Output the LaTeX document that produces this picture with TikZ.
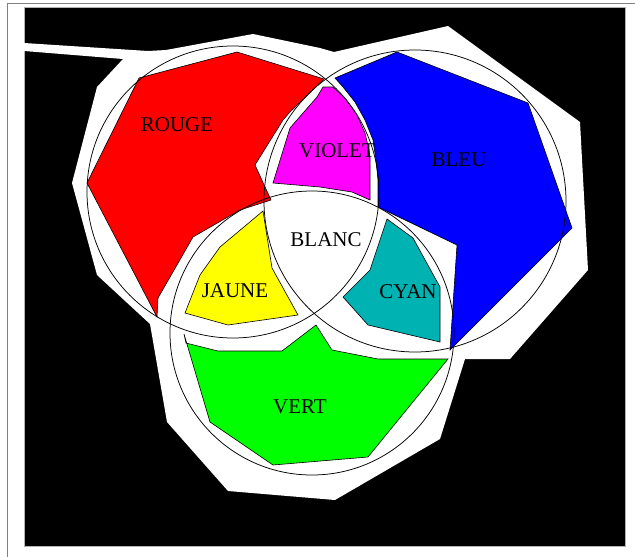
\documentclass[tikz,border=0pt]{standalone}
\usepackage{fontspec}
\setmainfont{Liberation Serif}
\definecolor{cyanfill}{RGB}{0,178,178}
\definecolor{rougefill}{RGB}{255,0,0}
\definecolor{bleufill}{RGB}{0,0,255}
\definecolor{vertfill}{RGB}{0,255,0}
\definecolor{jaunefill}{RGB}{255,255,0}
\definecolor{violetfill}{RGB}{255,0,255}
\begin{document}
\begin{tikzpicture}[x=1pt,y=-1pt,
  poly/.style={draw=black,line width=0.6pt,line join=miter},
  ring/.style={draw=black,line width=0.75pt},
  lbl/.style={anchor=base,inner sep=0pt,font=\fontsize{21}{24}\selectfont}]
\useasboundingbox (0,0) rectangle (635,557);
\fill[white] (0,0) rectangle (635,557);
\draw[gray,line width=1pt] (7,562) -- (7,3) -- (640,3);
\filldraw[fill=black,draw=gray!60,line width=0.5pt] (24,7) rectangle (625,546);
% white hull
\fill[white] (24,43) -- (148,51) -- (166,50) -- (253,34) -- (320,48) -- (334,52) -- (448,26)
  -- (580,122) -- (588,270) -- (510,359) -- (465,359) -- (440,439) -- (335,500)
  -- (228,491) -- (167,422) -- (150,324) -- (97,275) -- (72,183) -- (97,87)
  -- (123,59) -- (24,51) -- cycle;
% colour regions
\filldraw[poly,fill=rougefill] (139,78) -- (237,52) -- (324,79) -- (290,112) -- (283,120) -- (255,165)
  -- (271,200) -- (240,210) -- (193,237) -- (158,298) -- (157,317) -- (87,183) -- cycle;
\filldraw[poly,fill=bleufill] (335,78) -- (397,52) -- (528,103) -- (572,228) -- (450,350) -- (457,245)
  -- (378,207) -- (378,180) -- (376,160) -- (373,140) -- (365,120) -- (355,102) -- (343,87) -- cycle;
\filldraw[poly,fill=violetfill] (323,87) -- (333,87) -- (345,98) -- (357,115) -- (365,133) -- (369,150)
  -- (370,157) -- (370,200) -- (352,192) -- (320,187) -- (273,183) -- (290,128) -- (317,97) -- cycle;
\filldraw[poly,fill=jaunefill] (263,211) -- (220,247) -- (200,275) -- (185,313) -- (228,325)
  -- (298,315) -- (272,268) -- cycle;
\filldraw[poly,fill=cyanfill] (387,219) -- (413,238) -- (440,287) -- (440,342) -- (368,325)
  -- (343,297) -- (370,270) -- cycle;
\filldraw[poly,fill=vertfill] (184,334) -- (186,343) -- (218,351) -- (282,351) -- (316,325) -- (332,350)
  -- (378,359) -- (448,359) -- (368,457) -- (273,465) -- (210,422) -- cycle;
% circles
\draw[ring] (233,192) circle[radius=146];
\draw[ring] (415,201) circle[radius=151];
\draw[ring] (312,333) circle[radius=142];
% labels
\node[lbl] (rouge) at (177,131) {ROUGE};
\node[lbl] (violet) at (337,157) {VIOLET};
\node[lbl] (bleu) at (459,166) {BLEU};
\node[lbl] (blanc) at (326,246) {BLANC};
\node[lbl] (cyan) at (408,298) {CYAN};
\node[lbl] (jaune) at (235,297) {JAUNE};
\node[lbl] (vert) at (300,413) {VERT};
\end{tikzpicture}
\end{document}
